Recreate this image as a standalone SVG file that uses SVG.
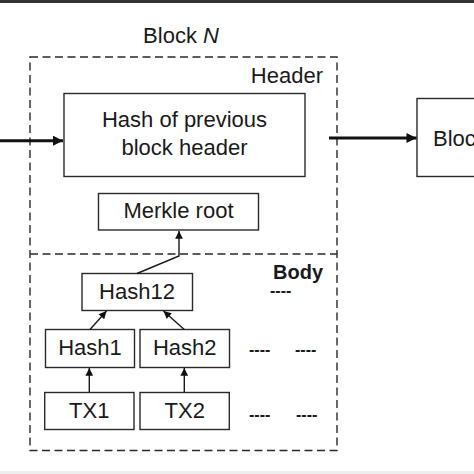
<svg xmlns="http://www.w3.org/2000/svg" width="474" height="474" viewBox="0 0 474 474">
<style>
text{font-family:"Liberation Sans",Arial,sans-serif;fill:#1a1a1a}
.box{fill:#fff;stroke:#2a2a2a;stroke-width:1.4}
.dash{fill:none;stroke:#2a2a2a;stroke-width:1.4;stroke-dasharray:8 4.5}
.ln{fill:none;stroke:#1a1a1a;stroke-width:1.4}
.thick{fill:none;stroke:#111;stroke-width:3}
.t{font-size:22px;text-anchor:middle}
.dots{font-size:16px;font-weight:bold}
</style>
<defs>
<marker id="ah" viewBox="0 0 10 10" refX="10" refY="5" markerWidth="12" markerHeight="10" markerUnits="userSpaceOnUse" orient="auto"><path d="M0,0 L10,5 L0,10 z" fill="#111"/></marker>
<marker id="ahb" viewBox="0 0 10 10" refX="10" refY="5" markerWidth="6" markerHeight="5.5" orient="auto"><path d="M0,0 L10,5 L0,10 z" fill="#111"/></marker>
</defs>
<rect x="0" y="0" width="474" height="3" fill="#333"/>
<rect x="0" y="471" width="474" height="3" fill="#eee"/>

<g id="blockN">
<text x="181" y="43" class="t">Block <tspan font-style="italic">N</tspan></text>
<rect x="30" y="57" width="307" height="393.5" class="dash"/>
<line x1="30" y1="254" x2="337" y2="254" class="dash"/>
<text x="323" y="83" font-size="22" text-anchor="end">Header</text>
<text x="323" y="279" font-size="20" font-weight="bold" text-anchor="end">Body</text>
<text x="270" y="296" class="dots" font-size="12">----</text>
</g>

<g id="prevhash">
<rect x="64" y="93.5" width="241" height="83" class="box"/>
<text x="184.5" y="127" class="t">Hash of previous</text>
<text x="184.5" y="155" class="t">block header</text>
</g>

<g id="nextblock">
<rect x="417" y="98.5" width="70" height="78" class="box"/>
<text x="433" y="146" font-size="22">Bloc</text>
</g>

<g id="merkle">
<rect x="98.5" y="193.5" width="160" height="36.5" class="box"/>
<text x="178.5" y="218" class="t">Merkle root</text>
</g>

<g id="hash12">
<rect x="82" y="273.5" width="110.5" height="37" class="box"/>
<text x="137" y="298.5" class="t">Hash12</text>
</g>

<g id="hash1">
<rect x="45.5" y="329.5" width="89" height="38" class="box"/>
<text x="90" y="355" class="t">Hash1</text>
</g>
<g id="hash2">
<rect x="140" y="329.5" width="89.5" height="38" class="box"/>
<text x="184.7" y="355" class="t">Hash2</text>
</g>
<g id="tx1">
<rect x="44.7" y="392.5" width="89.3" height="37" class="box"/>
<text x="89.3" y="418" class="t">TX1</text>
</g>
<g id="tx2">
<rect x="140" y="392.5" width="89.3" height="37" class="box"/>
<text x="184.7" y="418" class="t">TX2</text>
</g>

<g id="ellipses">
<text x="249" y="354.5" class="dots">----</text>
<text x="295" y="354.5" class="dots">----</text>
<text x="249" y="419.5" class="dots">----</text>
<text x="296" y="419.5" class="dots">----</text>
</g>

<g id="connectors">
<line x1="0" y1="140.7" x2="63" y2="140.7" class="thick" marker-end="url(#ah)"/>
<line x1="329" y1="138" x2="416.5" y2="138" class="thick" stroke-width="2.6" marker-end="url(#ah)"/>
<polyline points="137,273.5 179,256 179,231" class="ln" marker-end="url(#ahb)"/>
<line x1="90" y1="329.5" x2="106.5" y2="311" class="ln" marker-end="url(#ahb)"/>
<line x1="184.3" y1="329.5" x2="163.5" y2="311" class="ln" marker-end="url(#ahb)"/>
<line x1="89.3" y1="392.5" x2="89.3" y2="368" class="ln" marker-end="url(#ahb)"/>
<line x1="184.3" y1="392.5" x2="184.3" y2="368" class="ln" marker-end="url(#ahb)"/>
</g>
</svg>
